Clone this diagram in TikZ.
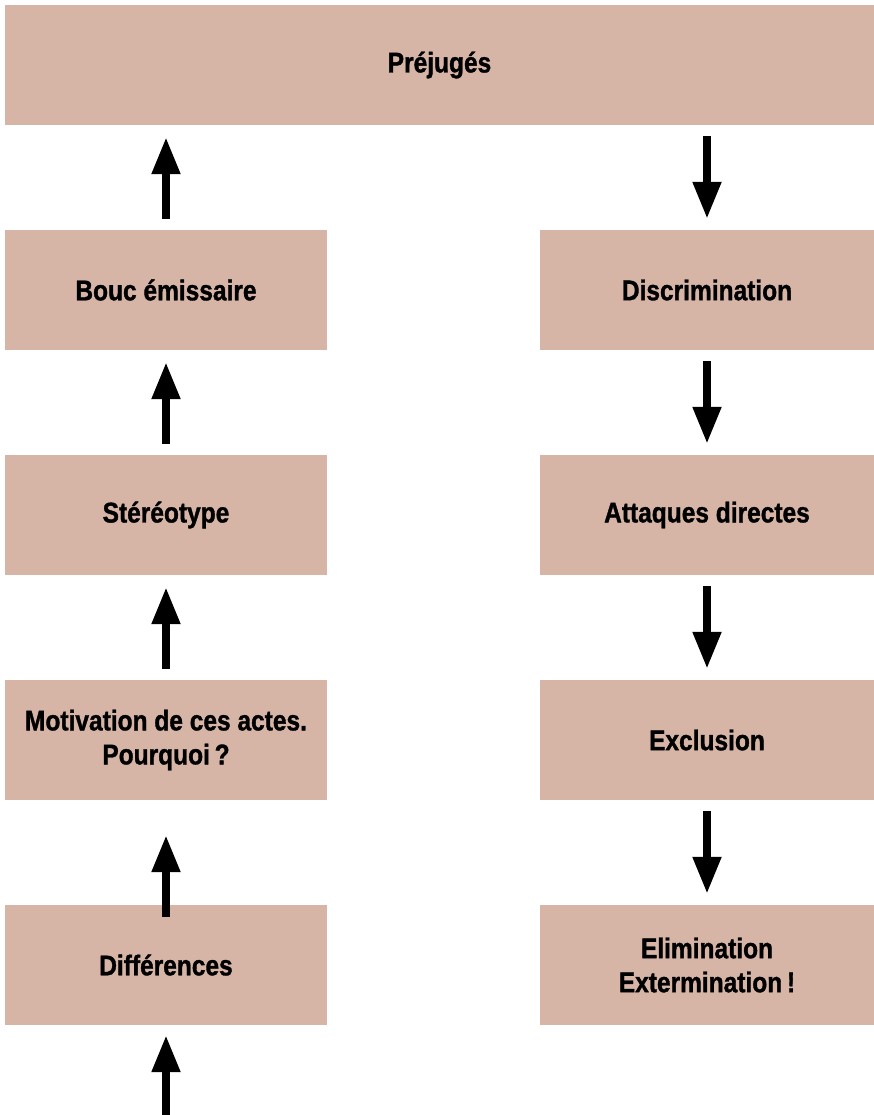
\documentclass[tikz,border=0pt]{standalone}
\usepackage{fontspec}
\setmainfont{Liberation Sans}[FakeStretch=0.86,FakeBold=1.2]
\usepackage{tikz}
\usetikzlibrary{arrows.meta}
\definecolor{boxcol}{RGB}{214,181,166}

\begin{document}
\begin{tikzpicture}[x=1pt,y=-1pt,
    box/.style={fill=boxcol, inner sep=0pt, minimum height=120pt, align=center,
      font=\fontsize{28.5}{34}\selectfont\bfseries},
    leftbox/.style={box, minimum width=322pt},
    rightbox/.style={box, minimum width=334pt},
    flow/.style={line width=8pt, -{Triangle[length=37pt,width=27pt]}}]
  \useasboundingbox (0,0) rectangle (874,1115);
  % top
  \node[box, minimum width=869pt] (prej) at (439.5,65) {Préjugés};
  % left column
  \node[leftbox] (bouc) at (166,290) {Bouc émissaire};
  \node[leftbox] (stereo) at (166,515) {Stéréotype};
  \node[leftbox] (motiv) at (166,740) {Motivation de ces actes.\\Pourquoi\,?};
  \node[leftbox] (diff) at (166,965) {Différences};
  % right column
  \node[rightbox] (discr) at (707,290) {Discrimination};
  \node[rightbox] (attaq) at (707,515) {Attaques directes};
  \node[rightbox] (excl) at (707,740) {Exclusion};
  \node[rightbox] (elim) at (707,965) {Elimination\\Extermination\,!};
  \coordinate (start) at (166,1115);
  % arrows up
  \draw[flow, shorten >=10pt] (start) -- (diff.south);
  \draw[flow, shorten <=-12pt, shorten >=35pt] (diff.north) -- (motiv.south);
  \draw[flow, shorten <=11pt, shorten >=12pt] (motiv.north) -- (stereo.south);
  \draw[flow, shorten <=11pt, shorten >=12pt] (stereo.north) -- (bouc.south);
  \draw[flow, shorten <=11pt, shorten >=12pt] (bouc.north) -- (prej.south -| bouc.north);
  % arrows down
  \draw[flow, shorten <=11pt, shorten >=11pt] (prej.south -| discr.north) -- (discr.north);
  \draw[flow, shorten <=11pt, shorten >=11pt] (discr.south) -- (attaq.north);
  \draw[flow, shorten <=11pt, shorten >=11pt] (attaq.south) -- (excl.north);
  \draw[flow, shorten <=11pt, shorten >=11pt] (excl.south) -- (elim.north);
\end{tikzpicture}
\end{document}
